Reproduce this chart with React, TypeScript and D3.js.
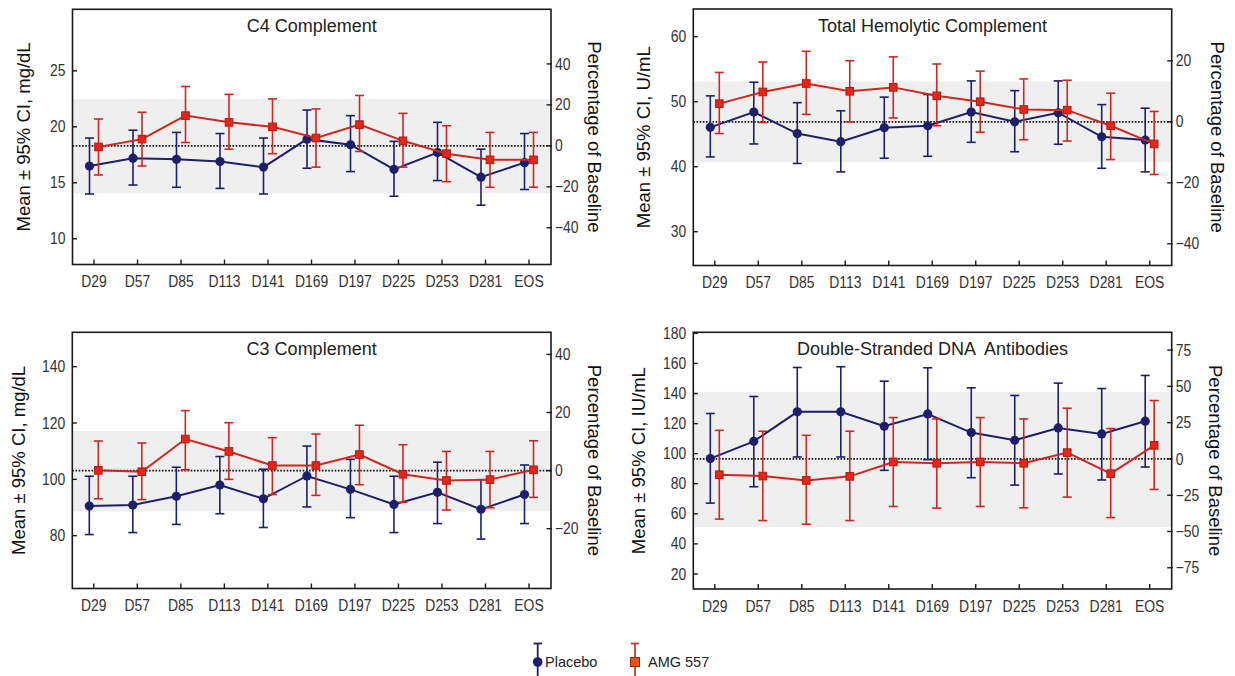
import React from 'react'
import * as d3 from 'd3'

// visits on the x axis
const visits = ['D29', 'D57', 'D85', 'D113', 'D141', 'D169', 'D197', 'D225', 'D253', 'D281', 'EOS']

// C4 complement, mg/dL
const c4Placebo = [16.5, 17.2, 17.1, 16.9, 16.4, 18.9, 18.4, 16.2, 17.7, 15.5, 16.8]
const c4PlaceboLo = [14.0, 14.8, 14.6, 14.5, 14.0, 16.3, 16.0, 13.8, 15.2, 13.0, 14.4]
const c4PlaceboHi = [19.0, 19.7, 19.5, 19.4, 19.0, 21.5, 21.0, 18.7, 20.4, 18.0, 19.4]
const c4Amg = [18.2, 18.9, 21.0, 20.4, 20.0, 19.0, 20.2, 18.75, 17.6, 17.05, 17.05]
const c4AmgLo = [15.7, 16.5, 18.6, 18.0, 17.6, 16.4, 17.8, 16.4, 15.1, 14.6, 14.6]
const c4AmgHi = [20.7, 21.3, 23.6, 22.9, 22.5, 21.6, 22.8, 21.2, 20.1, 19.5, 19.5]

// total hemolytic complement, U/mL
const thcPlacebo = [46.05, 48.4, 45.1, 43.85, 46.0, 46.3, 48.4, 46.9, 48.3, 44.6, 44.1]
const thcPlaceboLo = [41.5, 43.5, 40.5, 39.2, 41.3, 41.6, 43.75, 42.3, 43.45, 39.75, 39.2]
const thcPlaceboHi = [50.9, 53.0, 49.85, 48.6, 50.7, 51.1, 53.2, 51.7, 53.2, 49.55, 49.0]
const thcAmg = [49.7, 51.5, 52.8, 51.6, 52.2, 50.9, 50.0, 48.8, 48.7, 46.3, 43.5]
const thcAmgLo = [45.1, 46.8, 48.05, 46.9, 47.5, 46.3, 45.3, 44.15, 43.95, 41.1, 38.8]
const thcAmgHi = [54.5, 56.1, 57.75, 56.3, 56.9, 55.8, 54.7, 53.5, 53.3, 51.3, 48.5]

// C3 complement, mg/dL
const c3Placebo = [90.5, 90.9, 94.0, 98.0, 93.1, 101.2, 96.45, 91.1, 95.4, 89.35, 94.6]
const c3PlaceboLo = [80.4, 81.1, 84.0, 87.8, 82.9, 90.2, 86.4, 81.1, 84.3, 78.8, 84.3]
const c3PlaceboHi = [101.1, 101.1, 104.3, 108.1, 103.6, 111.8, 107.1, 101.1, 106.1, 99.9, 105.1]
const c3Amg = [103.2, 102.7, 114.3, 109.9, 104.9, 104.9, 108.8, 101.8, 99.6, 99.9, 103.4]
const c3AmgLo = [93.1, 92.8, 103.4, 100.0, 94.6, 94.3, 98.1, 91.9, 89.1, 89.9, 93.6]
const c3AmgHi = [113.6, 112.9, 124.4, 120.1, 114.8, 116.1, 119.2, 112.3, 109.9, 109.9, 113.7]

// double-stranded DNA antibodies, IU/mL
const dnaPlacebo = [96.7, 108.2, 127.8, 127.8, 118.2, 126.4, 114.0, 108.9, 117.1, 113.1, 121.6]
const dnaPlaceboLo = [67.1, 78.0, 97.8, 97.8, 88.9, 96.0, 84.0, 79.1, 86.5, 82.5, 91.1]
const dnaPlaceboHi = [126.7, 138.0, 157.3, 157.8, 148.2, 157.1, 143.8, 138.7, 146.9, 143.3, 152.0]
const dnaAmg = [86.0, 85.1, 82.2, 84.9, 94.5, 93.6, 94.5, 93.6, 100.7, 86.7, 105.5]
const dnaAmgLo = [56.5, 55.5, 53.1, 55.5, 64.9, 63.8, 64.9, 64.0, 71.1, 57.5, 76.2]
const dnaAmgHi = [115.5, 114.9, 112.2, 114.9, 124.0, 123.1, 124.0, 123.1, 130.2, 116.7, 135.3]

// baselines (0% line) and shaded reference ranges
const baselines = [18.3, 46.9, 103.1, 96.5]
const bands = [[14.05, 22.47], [40.7, 53.1], [88.6, 117.2], [51.1, 141.1]]

const titles = ['C4 Complement', 'Total Hemolytic Complement', 'C3 Complement', 'Double-Stranded DNA  Antibodies']
const yLabels = ['Mean ± 95% CI, mg/dL', 'Mean ± 95% CI, U/mL', 'Mean ± 95% CI, mg/dL', 'Mean ± 95% CI, IU/mL']
const yTicks = [[10, 15, 20, 25], [30, 40, 50, 60], [80, 100, 120, 140], [20, 40, 60, 80, 100, 120, 140, 160, 180]]
const pctTicks = [[-40, -20, 0, 20, 40], [-40, -20, 0, 20], [-20, 0, 20, 40], [-75, -50, -25, 0, 25, 50, 75]]
const yDomains = [[7.7, 30.5], [24.8, 64.26], [61.25, 152.2], [10, 180.7]]

const NAVY = '#1d1f6b'
const RED = '#cf2620'
const SQ_FILL = '#e4261b'
const SQ_STROKE = '#b31a12'
const SANS = "'Liberation Sans', Arial, Helvetica, sans-serif"

const boxes = [
  { x0: 72.5, x1: 551, y0: 9.3, y1: 264.5 },
  { x0: 693.3, x1: 1171.7, y0: 9, y1: 265.5 },
  { x0: 72.3, x1: 551, y0: 332.3, y1: 588.5 },
  { x0: 693.3, x1: 1171.7, y0: 332.3, y1: 589 },
]
const leftTitleDx = [49, 50, 54, 55]
const rightTitleDx = [43, 46, 43, 44]

const panels = [
  { mean: [c4Placebo, c4Amg], lo: [c4PlaceboLo, c4AmgLo], hi: [c4PlaceboHi, c4AmgHi] },
  { mean: [thcPlacebo, thcAmg], lo: [thcPlaceboLo, thcAmgLo], hi: [thcPlaceboHi, thcAmgHi] },
  { mean: [c3Placebo, c3Amg], lo: [c3PlaceboLo, c3AmgLo], hi: [c3PlaceboHi, c3AmgHi] },
  { mean: [dnaPlacebo, dnaAmg], lo: [dnaPlaceboLo, dnaAmgLo], hi: [dnaPlaceboHi, dnaAmgHi] },
]

// condensed-looking tick label
const Tick = ({ x, y, anchor, children }: any) => (
  <text
    transform={`translate(${x},${y}) scale(0.87,1)`}
    dy="0.35em"
    textAnchor={anchor}
    fontFamily={SANS}
    fontSize={16}
    fill="#333"
  >
    {children}
  </text>
)

const Panel = ({ i }: { i: number }) => {
  const box = boxes[i]
  const base = baselines[i]
  const [d0, d1] = yDomains[i]
  const x = d3.scalePoint<string>().domain(visits).range([box.x0 + 21.5, box.x1 - 22])
  const y = d3.scaleLinear().domain([d0, d1]).range([box.y1, box.y0])
  const pct = d3
    .scaleLinear()
    .domain([(d0 / base - 1) * 100, (d1 / base - 1) * 100])
    .range([box.y1, box.y0])
  const fmt = d3.format('d')
  const data = panels[i]
  const offsets = [-4.5, 4.5]
  const colors = [NAVY, RED]
  const midY = (box.y0 + box.y1) / 2

  const series = [0, 1].map(s => {
    const pts = visits.map((v, k) => ({
      cx: (x(v) as number) + offsets[s],
      m: y(data.mean[s][k]),
      lo: y(data.lo[s][k]),
      hi: y(data.hi[s][k]),
    }))
    const path = d3.line<any>().x(p => p.cx).y(p => p.m)(pts) as string
    return (
      <g key={s}>
        {pts.map((p, k) => (
          <g key={k} stroke={colors[s]} strokeWidth={1.6}>
            <line x1={p.cx} x2={p.cx} y1={p.lo} y2={p.hi} />
            <line x1={p.cx - 4.5} x2={p.cx + 4.5} y1={p.lo} y2={p.lo} />
            <line x1={p.cx - 4.5} x2={p.cx + 4.5} y1={p.hi} y2={p.hi} />
          </g>
        ))}
        <path d={path} fill="none" stroke={colors[s]} strokeWidth={2} />
        {pts.map((p, k) =>
          s === 0 ? (
            <circle key={k} cx={p.cx} cy={p.m} r={4.6} fill={NAVY} />
          ) : (
            <rect key={k} x={p.cx - 3.8} y={p.m - 3.8} width={7.6} height={7.6} fill={SQ_FILL} stroke={SQ_STROKE} strokeWidth={1} />
          )
        )}
      </g>
    )
  })

  return (
    <g>
      <rect
        x={box.x0}
        width={box.x1 - box.x0}
        y={y(bands[i][1])}
        height={y(bands[i][0]) - y(bands[i][1])}
        fill="#efefef"
      />
      <line x1={box.x0} x2={box.x1} y1={y(base)} y2={y(base)} stroke="#111" strokeWidth={1.6} strokeDasharray="1.6,1.6" />
      {series}
      <rect x={box.x0} y={box.y0} width={box.x1 - box.x0} height={box.y1 - box.y0} fill="none" stroke="#1a1a1a" strokeWidth={1.6} />
      <text
        x={(box.x0 + box.x1) / 2}
        y={box.y0 + 22.5}
        textAnchor="middle"
        fontFamily={SANS}
        fontSize={18}
        fill="#222"
        style={{ whiteSpace: 'pre' }}
      >
        {titles[i]}
      </text>
      {/* left axis */}
      {yTicks[i].map(t => (
        <g key={t}>
          <line x1={box.x0} x2={box.x0 + 4.5} y1={y(t)} y2={y(t)} stroke="#1a1a1a" strokeWidth={1.4} />
          <Tick x={box.x0 - 7} y={y(t)} anchor="end">
            {t}
          </Tick>
        </g>
      ))}
      {/* right axis, percentage of baseline */}
      {pctTicks[i].map(t => (
        <g key={t}>
          <line x1={box.x1 - 4.5} x2={box.x1 + 1} y1={pct(t)} y2={pct(t)} stroke="#1a1a1a" strokeWidth={1.4} />
          <Tick x={box.x1 + 4} y={pct(t)} anchor="start">
            {fmt(t)}
          </Tick>
        </g>
      ))}
      {/* bottom axis */}
      {visits.map(v => (
        <g key={v}>
          <line x1={x(v)} x2={x(v)} y1={box.y1} y2={box.y1 - 5} stroke="#1a1a1a" strokeWidth={1.4} />
          <Tick x={x(v)} y={box.y1 + 17} anchor="middle">
            {v}
          </Tick>
        </g>
      ))}
      <text
        transform={`translate(${box.x0 - leftTitleDx[i]},${midY}) rotate(-90)`}
        dy="0.35em"
        textAnchor="middle"
        fontFamily={SANS}
        fontSize={18.5}
        fill="#111"
      >
        {yLabels[i]}
      </text>
      <text
        transform={`translate(${box.x1 + rightTitleDx[i]},${midY}) rotate(90)`}
        dy="0.35em"
        textAnchor="middle"
        fontFamily={SANS}
        fontSize={18.5}
        fill="#111"
      >
        Percentage of Baseline
      </text>
    </g>
  )
}

const Legend = () => (
  <g fontFamily={SANS} fontSize={14.5} fill="#222">
    <g stroke={NAVY} strokeWidth={1.8}>
      <line x1={537.7} x2={537.7} y1={643.5} y2={676} />
      <line x1={533.5} x2={542} y1={643.5} y2={643.5} />
    </g>
    <circle cx={537.7} cy={662} r={4.8} fill={NAVY} />
    <text x={545} y={662} dy="0.35em">Placebo</text>
    <g stroke="#a84a30" strokeWidth={1.8}>
      <line x1={635} x2={635} y1={643.5} y2={676} />
      <line x1={630.8} x2={639.2} y1={643.5} y2={643.5} />
    </g>
    <rect x={630.5} y={657.5} width={9} height={9} fill="#e8501e" stroke="#8c2c12" strokeWidth={1} />
    <text x={648} y={662} dy="0.35em">AMG 557</text>
  </g>
)

export default function App() {
  return (
    <div style={{ position: 'absolute', left: 0, top: 0 }}>
      <svg width={1235} height={676} viewBox="0 0 1235 676" style={{ display: 'block', background: '#fff' }}>
        {[0, 1, 2, 3].map(i => (
          <Panel key={i} i={i} />
        ))}
        <Legend />
      </svg>
    </div>
  )
}
